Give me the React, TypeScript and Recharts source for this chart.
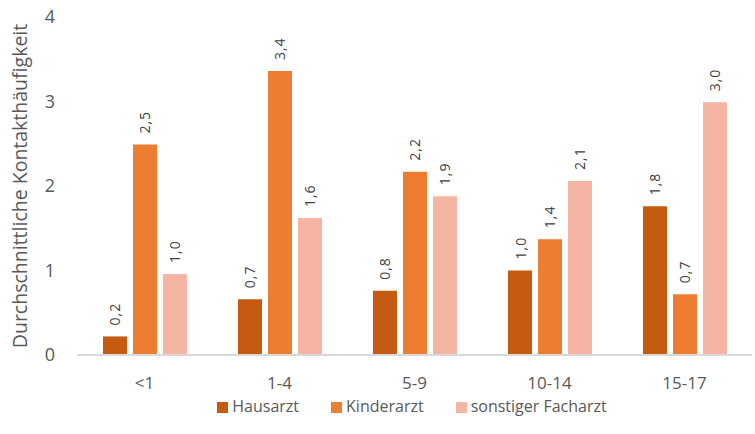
import { BarChart, Bar, XAxis, YAxis, Legend, LabelList, Label } from 'recharts';

// Altersgruppen (Jahre)
const ageGroups = ['<1', '1-4', '5-9', '10-14', '15-17'];

// Durchschnittliche Kontakthäufigkeit je Arztgruppe
const hausarzt = [0.22, 0.66, 0.76, 1.0, 1.76];
const kinderarzt = [2.49, 3.36, 2.17, 1.37, 0.72];
const facharzt = [0.96, 1.62, 1.88, 2.06, 2.99];

const yTicks = [0, 1, 2, 3, 4];

const data = ageGroups.map((group, i) => ({
  group,
  hausarzt: hausarzt[i],
  kinderarzt: kinderarzt[i],
  facharzt: facharzt[i],
}));

const FONT = '"Segoe UI", "Open Sans", "Noto Sans", sans-serif';

const formatValue = (v: number) => v.toFixed(1).replace('.', ',');

// rotated value label sitting above each bar
const renderValueLabel = (props: any) => {
  const { x, y, width, value } = props;
  const cx = x + width / 2;
  const cy = y - 11;
  return (
    <text
      x={cx}
      y={cy}
      transform={`rotate(-90, ${cx}, ${cy})`}
      textAnchor="start"
      dominantBaseline="central"
      fontSize={14}
      fill="#404040"
      fontFamily={FONT}
      letterSpacing={1}
    >
      {formatValue(value)}
    </text>
  );
};

export default function App() {
  return (
    <div style={{ position: 'absolute', top: 0, left: 0, background: '#fff' }}>
      <BarChart
        width={755}
        height={434}
        data={data}
        margin={{ top: 17, right: 3, left: 0, bottom: 9 }}
        barSize={24}
        barGap={6}
        style={{ fontFamily: FONT }}
      >
        <XAxis
          dataKey="group"
          height={40}
          axisLine={{ stroke: '#D9D9D9', strokeWidth: 2 }}
          tickLine={false}
          tick={{ fill: '#595959', fontSize: 17 }}
          tickMargin={16}
        />
        <YAxis
          width={77}
          domain={[0, 4]}
          ticks={yTicks}
          axisLine={false}
          tickLine={false}
          tick={{ fill: '#595959', fontSize: 18 }}
          tickMargin={16}
        >
          <Label
            value="Durchschnittliche Kontakthäufigkeit"
            angle={-90}
            position="center"
            dx={-18}
            fill="#595959"
            fontSize={19.5}
          />
        </YAxis>
        <Legend
          verticalAlign="bottom"
          height={30}
          iconType="square"
          iconSize={11}
          wrapperStyle={{ fontSize: 16, color: '#595959', paddingLeft: 52 }}
          formatter={(value: string) => (
            <span style={{ color: '#595959', marginRight: 22 }}>{value}</span>
          )}
        />
        <Bar dataKey="hausarzt" name="Hausarzt" fill="#C55A11" isAnimationActive={false}>
          <LabelList dataKey="hausarzt" content={renderValueLabel} />
        </Bar>
        <Bar dataKey="kinderarzt" name="Kinderarzt" fill="#ED7D31" isAnimationActive={false}>
          <LabelList dataKey="kinderarzt" content={renderValueLabel} />
        </Bar>
        <Bar dataKey="facharzt" name="sonstiger Facharzt" fill="#F4B6A2" isAnimationActive={false}>
          <LabelList dataKey="facharzt" content={renderValueLabel} />
        </Bar>
      </BarChart>
    </div>
  );
}
